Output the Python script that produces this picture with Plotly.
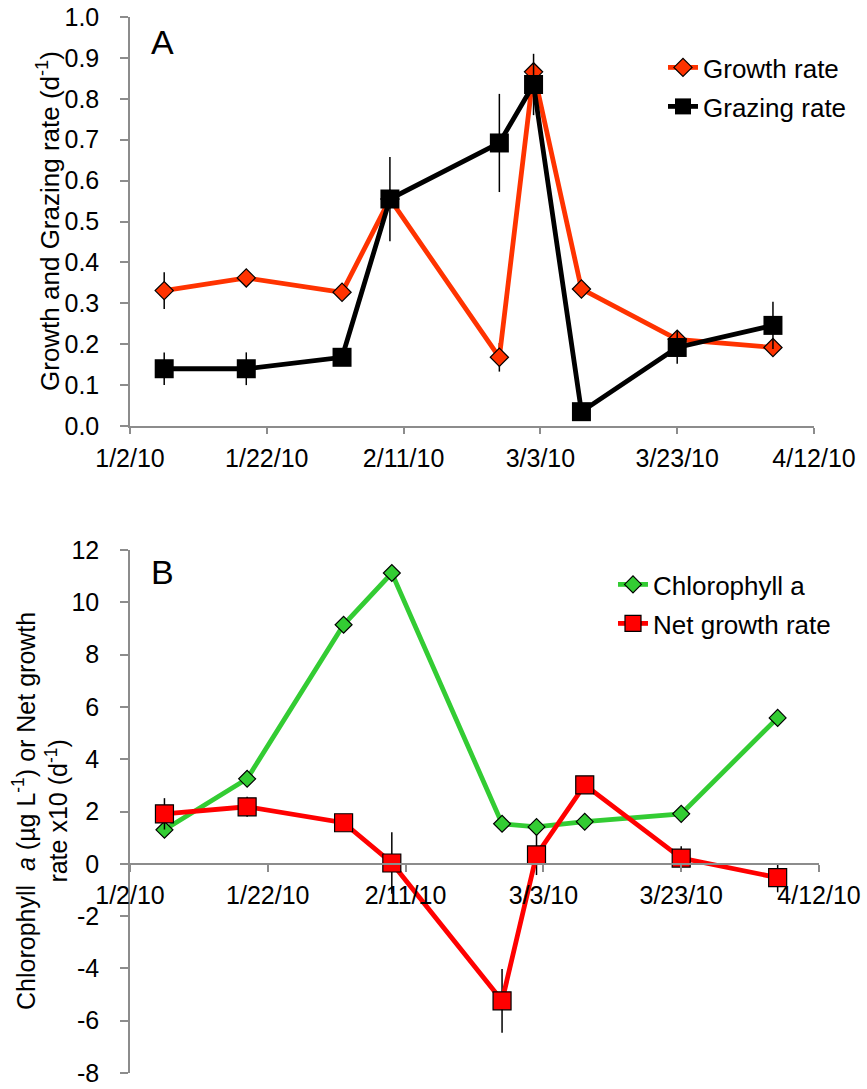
import plotly.graph_objects as go

W, H = 867, 1089
OFF = 0  # body margin removed by post_script

# ---- data ----
dates = ["2010-01-07", "2010-01-19", "2010-02-02", "2010-02-09", "2010-02-25",
         "2010-03-02", "2010-03-09", "2010-03-23", "2010-04-06"]
growth_rate = [0.331, 0.362, 0.327, 0.555, 0.168, 0.866, 0.335, 0.212, 0.192]
growth_err = [0.045, 0.012, 0.010, 0.020, 0.035, 0.020, 0.010, 0.010, 0.010]
grazing_rate = [0.140, 0.140, 0.168, 0.555, 0.692, 0.835, 0.035, 0.192, 0.246]
grazing_err = [0.040, 0.040, 0.010, 0.103, 0.120, 0.075, 0.010, 0.040, 0.058]

chl_a = [1.30, 3.25, 9.14, 11.12, 1.53, 1.41, 1.61, 1.91, 5.58]
net_growth = [1.91, 2.18, 1.57, 0.03, -5.24, 0.34, 3.02, 0.22, -0.53]
net_err = [0.60, 0.38, 0.10, 1.18, 1.22, 0.77, 0.15, 0.45, 0.56]

tick_dates = ["2010-01-02", "2010-01-22", "2010-02-11", "2010-03-03", "2010-03-23", "2010-04-12"]
tick_labels = ["1/2/10", "1/22/10", "2/11/10", "3/3/10", "3/23/10", "4/12/10"]
b_ytick_vals = [-8, -6, -4, -2, 0, 2, 4, 6, 8, 10, 12]
b_ytick_text = ["-8", "-6", "-4", "-2", "0", "2", "4", "6", "8", "10", "12"]

FONT = "Liberation Sans, Arial, sans-serif"
AXC = "#8c8c8c"
ORANGE = "#FF3300"
BLACK = "#000000"
GREEN = "#33CC33"
RED = "#FF0000"


def px(x):
    return (x - OFF) / W


def py(y):
    return 1 - (y - OFF) / H


fig = go.Figure()

# Panel A
fig.add_trace(go.Scatter(
    x=dates, y=growth_rate, name="Growth rate", mode="lines+markers",
    line=dict(color=ORANGE, width=4.8),
    marker=dict(symbol="diamond", size=14, color=ORANGE, line=dict(color="black", width=1.2)),
    error_y=dict(type="data", array=growth_err, color="black", thickness=1.5, width=0),
    xaxis="x", yaxis="y", legend="legend"))
fig.add_trace(go.Scatter(
    x=dates, y=grazing_rate, name="Grazing rate", mode="lines+markers",
    line=dict(color=BLACK, width=4.8),
    marker=dict(symbol="square", size=19, color=BLACK),
    error_y=dict(type="data", array=grazing_err, color="black", thickness=1.5, width=0),
    xaxis="x", yaxis="y", legend="legend2"))

# Panel B
fig.add_trace(go.Scatter(
    x=dates, y=chl_a, name="Chlorophyll a", mode="lines+markers",
    line=dict(color=GREEN, width=4.8),
    marker=dict(symbol="diamond", size=13, color=GREEN, line=dict(color="black", width=1.2)),
    xaxis="x2", yaxis="y2", legend="legend3"))
fig.add_trace(go.Scatter(
    x=dates, y=net_growth, name="Net growth rate", mode="lines+markers",
    line=dict(color=RED, width=4.8),
    marker=dict(symbol="square", size=18, color=RED, line=dict(color="black", width=1.2)),
    error_y=dict(type="data", array=net_err, color="black", thickness=1.5, width=0),
    xaxis="x2", yaxis="y2", legend="legend4"))

common_x = dict(
    type="date", range=["2010-01-02", "2010-04-12"],
    tickvals=tick_dates, ticktext=tick_labels,
    showline=True, linecolor=AXC, linewidth=1.5,
    ticks="outside", tickcolor=AXC, tickwidth=1.5,
    showgrid=False, zeroline=False, automargin=False,
    ticklabeloverflow="allow",
    tickfont=dict(family=FONT, size=25, color="black"),
)
common_y = dict(
    showline=True, linecolor=AXC, linewidth=1.5,
    ticks="outside", ticklen=8, tickcolor=AXC, tickwidth=1.5,
    showgrid=False, zeroline=False, automargin=False,
    ticklabeloverflow="allow",
    tickfont=dict(family=FONT, size=25, color="black"),
    ticklabelstandoff=16,
)


def leg(x, y):
    return dict(x=px(x), y=py(y), xanchor="left", yanchor="top",
                font=dict(family=FONT, size=26, color="black"),
                bgcolor="rgba(0,0,0,0)")


fig.update_layout(
    template="none",
    width=W, height=H,
    margin=dict(l=0, r=0, t=0, b=0, autoexpand=False),
    paper_bgcolor="white", plot_bgcolor="white",
    font=dict(family=FONT, size=25, color="black"),
    xaxis=dict(**common_x, domain=[px(130), px(814)], anchor="y",
               ticklen=6, ticklabelstandoff=3),
    yaxis=dict(**common_y, domain=[py(426), py(17)], range=[0, 1.0], dtick=0.1,
               tickformat=".1f", anchor="x"),
    xaxis2=dict(**common_x, domain=[px(130), px(819)], anchor="free", position=py(864),
                ticklen=7, ticklabelstandoff=2),
    yaxis2=dict(**common_y, domain=[py(1073), py(550)], range=[-8, 12],
                tickvals=b_ytick_vals, ticktext=b_ytick_text, anchor="x2"),
    legend=leg(663, 44),
    legend2=leg(663, 83),
    legend3=leg(613, 561),
    legend4=leg(613, 600),
    showlegend=True,
)

fig.add_annotation(text="Growth and Grazing rate (d<sup>-1</sup>)", textangle=-90,
                   x=px(48), y=py(221), xref="paper", yref="paper",
                   xanchor="center", yanchor="middle", showarrow=False,
                   font=dict(family=FONT, size=26, color="black"))
fig.add_annotation(text="Chlorophyll  <i>a</i> (µg L<sup>-1</sup>) or Net growth<br>rate x10 (d<sup>-1</sup>)",
                   textangle=-90,
                   x=px(40), y=py(811), xref="paper", yref="paper",
                   xanchor="center", yanchor="middle", showarrow=False,
                   font=dict(family=FONT, size=25, color="black"))
fig.add_annotation(text="A", x=px(162), y=py(42), xref="paper", yref="paper",
                   xanchor="center", yanchor="middle", showarrow=False,
                   font=dict(family=FONT, size=34, color="black"))
fig.add_annotation(text="B", x=px(162), y=py(572), xref="paper", yref="paper",
                   xanchor="center", yanchor="middle", showarrow=False,
                   font=dict(family=FONT, size=34, color="black"))

fig.write_html("out.html", config={"displayModeBar": False},
               post_script="document.body.style.margin='0';document.body.style.overflow='hidden';")
